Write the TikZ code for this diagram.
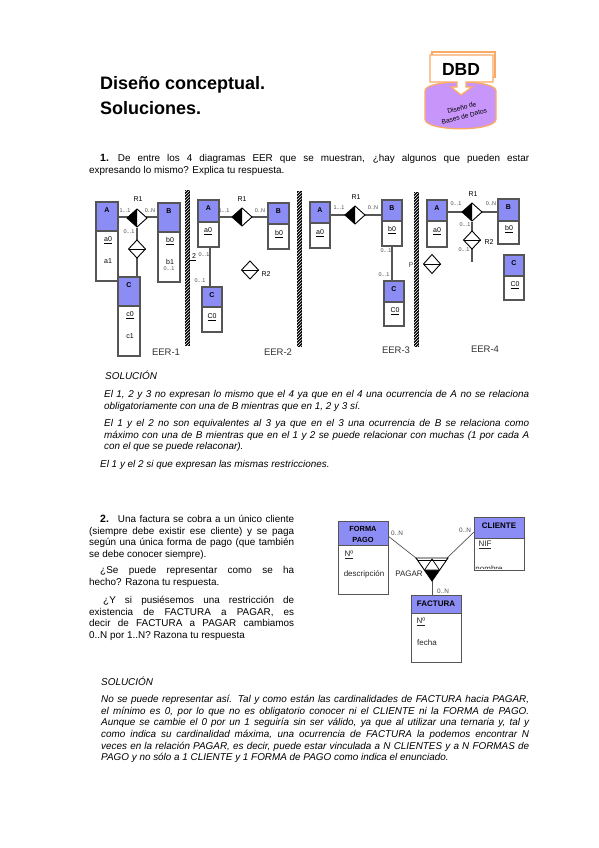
\documentclass[tikz,border=0pt]{standalone}
\usepackage{fontspec}
\setmainfont{Liberation Sans}
\usetikzlibrary{patterns}
\definecolor{ent}{RGB}{140,140,245}
\definecolor{org}{RGB}{250,170,100}
\definecolor{lil}{RGB}{200,150,250}
\definecolor{lin}{RGB}{85,85,85}
\tikzset{
 x=1pt,y=-1pt,
 ebox/.style={draw=lin,line width=1.2pt,fill=white},
 ehead/.style={draw=lin,line width=1.2pt,fill=ent},
 conn/.style={draw=lin,line width=1.2pt},
 lb/.style={font=\fontsize{7}{8}\selectfont,inner sep=0pt,text=black},
 card/.style={font=\fontsize{5.5}{6}\selectfont,inner sep=0pt,text=black!70},
 eer/.style={font=\fontsize{9.5}{11}\selectfont,inner sep=0pt,text=black!80},
 para/.style={anchor=north west,inner sep=0pt,align=justify,font=\fontsize{9.9}{11.7}\selectfont},
 itpara/.style={para,font=\fontsize{9.9}{11.7}\selectfont\itshape},
 dia/.style={draw=black,line width=.9pt,fill=white},
 big/.style={font=\fontsize{8}{9}\selectfont,inner sep=0pt,text=black!85},
 bigb/.style={font=\fontsize{8}{9}\selectfont\bfseries,inner sep=0pt,text=black},
}
\newcommand{\Ent}[8]{%
 \draw[ebox] (#2,#3) rectangle (#4,#6);
 \draw[ehead] (#2,#3) rectangle (#4,#5);
 \node[lb,font=\fontsize{7}{8}\selectfont\bfseries] (#1h) at ({(#2+#4)/2},{#3+8}) {#7};
 #8
}
\newcommand{\RelL}[4]{%
 \draw[dia] (#1-#3,#2) -- (#1,#2-#4) -- (#1+#3,#2) -- (#1,#2+#4) -- cycle;
 \fill[black] (#1-#3,#2) -- (#1,#2-#4) -- (#1,#2+#4) -- cycle;
}
\newcommand{\RelS}[4]{%
 \draw[dia] (#1-#3,#2) -- (#1,#2-#4) -- (#1+#3,#2) -- (#1,#2+#4) -- cycle;
 \draw[line width=.6pt] (#1-#3,#2) -- (#1+#3,#2);
}
\begin{document}
\begin{tikzpicture}
\useasboundingbox (0,0) rectangle (599,848);
\fill[white] (0,0) rectangle (599,848);

% Title
\node[anchor=base west,inner sep=0pt,font=\fontsize{18}{20}\selectfont\bfseries] (t1) at (100,90) {Diseño conceptual.};
\node[anchor=base west,inner sep=0pt,font=\fontsize{18}{20}\selectfont\bfseries] (t2) at (100,115) {Soluciones.};

% Logo
\draw[org,line width=1.3pt,fill=white] (432,52) rectangle (495,77);
\draw[org,line width=1.3pt,fill=lil] (425,91) -- (425,119) .. controls (425,132) and (496,132) .. (496,119) -- (496,91) .. controls (496,79) and (425,79) .. (425,91) -- cycle;
\draw[org,line width=1.3pt,fill=white] (430,55) -- (493,55) -- (493,82) -- (466,82) -- (466,87) -- (472,87) -- (461,95) -- (451,87) -- (457,87) -- (457,82) -- (430,82) -- cycle;
\node[inner sep=0pt,font=\fontsize{17.5}{20}\selectfont\bfseries] (dbd) at (461,69) {DBD};
\node[inner sep=0pt,rotate=15,align=center,font=\fontsize{6.6}{9}\selectfont] (dbd2) at (463,112) {Diseño de\\Bases de Datos};

% Question 1
\node[para,text width=429pt] (q1) at (100,154) {{\bfseries\fontsize{10.5}{12}\selectfont 1.}\hspace{9pt}De entre los 4 diagramas EER que se muestran, ¿hay algunos que pueden estar\linebreak};
\node[para] (q1b) at (89,166) {expresando lo mismo? Explica tu respuesta.};

% Bars
\foreach \n/\x/\ya/\yb in {b1/187/190/346,b2/299/191/347,b3/416/192/347}{
 \fill[black] (\x-2.5,\ya) rectangle (\x+2.5,\yb);
 \fill[pattern=north east lines,pattern color=white] (\x-2.5,\ya) rectangle (\x+2.5,\yb);
}

% EER-1
\Ent{a1}{96}{202}{118}{231}{281}{A}{\node[lb] (a1x) at (108,240) {\underline{a0}}; \node[lb] (a1y) at (108,261) {a1};}
\Ent{b1}{158}{203}{180}{232}{282}{B}{\node[lb] (b1x) at (170,241) {\underline{b0}}; \node[lb] (b1y) at (170,262) {b1};}
\draw[conn] (118,217) -- (130,217);
\draw[conn] (146,217) -- (158,217);
\draw[conn] (137,228) -- (137,240);
\draw[conn] (137,258) -- (137,276);
\RelL{137}{218}{10}{9}
\RelS{137}{249}{8.5}{9}
\Ent{c1}{118}{277}{140}{306}{356}{C}{\node[lb] (c1x) at (130,315) {\underline{c0}}; \node[lb] (c1y) at (130,336) {c1};}
\node[lb] (r1a) at (138,199) {R1};
\node[card] at (125,211) {1...1};
\node[card] at (150,211) {0..N};
\node[card] at (129,232) {0...1};
\node[card] at (169,269) {0...1};
\node[lb] at (193,257) {\underline{\ 2}};
\node[eer] (e1) at (166,352) {EER-1};

% EER-2
\Ent{a2}{198}{200}{219}{222}{247}{A}{\node[lb] (a2x) at (208,231) {\underline{a0}};}
\Ent{b2}{268}{203}{289}{224}{249}{B}{\node[lb] (b2x) at (279,234) {\underline{b0}};}
\draw[conn] (220,217) -- (232,217);
\draw[conn] (251,217) -- (268,217);
\RelL{242}{217}{10}{9}
\draw[conn] (210,248) -- (210,287);
\Ent{c2}{202}{287}{222}{307}{332}{C}{\node[lb] (c2x) at (212,317) {\underline{C0}};}
\RelS{250}{270}{8.5}{9}
\node[lb] at (242,199) {R1};
\node[lb] at (266,274) {R2};
\node[card] at (224,211) {1...1};
\node[card] at (260,211) {0..N};
\node[card] at (204,255) {0...1};
\node[card] at (200,281) {0...1};
\node[eer] (e2) at (278,352) {EER-2};

% EER-3
\Ent{a3}{310}{202}{330}{223}{248}{A}{\node[lb] (a3x) at (320,233) {\underline{a0}};}
\Ent{b3}{382}{200}{402}{221}{246}{B}{\node[lb] (b3x) at (392,230) {\underline{b0}};}
\draw[conn] (331,215) -- (346,215);
\draw[conn] (364,215) -- (382,215);
\RelL{355}{215}{10}{9}
\draw[conn] (392,247) -- (392,281);
\Ent{c3}{384}{281}{404}{302}{326}{C}{\node[lb] (c3x) at (395,311) {\underline{C0}};}
\node[lb] at (356,197) {R1};
\node[card] at (339,208) {1...1};
\node[card] at (373,208) {0..N};
\node[card] at (386,251) {0...1};
\node[card] at (384,275) {0...1};
\node[lb,text=black!70] at (411,265) {P};
\node[eer] (e3) at (396,350) {EER-3};

% EER-4
\Ent{a4}{427}{200}{447}{221}{247}{A}{\node[lb] (a4x) at (437,231) {\underline{a0}};}
\Ent{b4}{498}{199}{519}{221}{244}{B}{\node[lb] (b4x) at (509,229) {\underline{b0}};}
\draw[conn] (447,212) -- (463,212);
\draw[conn] (482,212) -- (498,212);
\RelL{472}{212}{10}{9}
\draw[conn] (472,222) -- (472,231);
\draw[conn] (472,249) -- (472,262);
\RelS{472}{240}{8.5}{9}
\RelS{432}{264}{8.5}{9.5}
\Ent{c4}{504}{255}{524}{276}{300}{C}{\node[lb] (c4x) at (515,285) {\underline{C0}};}
\node[lb] at (473,194) {R1};
\node[lb] at (489,242) {R2};
\node[card] at (456,204) {0...1};
\node[card] at (491,204) {0..N};
\node[card] at (465,225) {0...1};
\node[card] at (464,250) {0...1};
\node[eer] (e4) at (485,349) {EER-4};

% Solution 1
\node[itpara] (s1) at (105,371) {SOLUCIÓN};
\node[itpara,text width=425pt] (s1a) at (104,390) {El 1, 2 y 3 no expresan lo mismo que el 4 ya que en el 4 una ocurrencia de A no se relaciona\linebreak obligatoriamente con una de B mientras que en 1, 2 y 3 sí.};
\node[itpara,text width=425pt] (s1b) at (104,419) {El 1 y el 2 no son equivalentes al 3 ya que en el 3 una ocurrencia de B se relaciona como\linebreak máximo con una de B mientras que en el 1 y 2 se puede relacionar con muchas (1 por cada A\linebreak con el que se puede relaconar).};
\node[itpara] (s1c) at (100,460) {El 1 y el 2 si que expresan las mismas restricciones.};

% Question 2
\node[para,text width=205pt] (q2a) at (89,515) {\hspace*{11pt}{\bfseries\fontsize{10.5}{12}\selectfont 2.}\hspace{9pt}Una factura se cobra a un único cliente\linebreak (siempre debe existir ese cliente) y se paga\linebreak según una única forma de pago (que también\linebreak se debe conocer siempre).};
\node[para,text width=205pt] (q2b) at (89,566) {\hspace*{11pt}¿Se puede representar como se ha\linebreak hecho? Razona tu respuesta.};
\node[para,text width=205pt] (q2c) at (89,596) {\hspace*{14pt}¿Y si pusiésemos una restricción de\linebreak existencia de FACTURA a PAGAR, es\linebreak decir de FACTURA a PAGAR cambiamos\linebreak 0..N por 1..N? Razona tu respuesta};

% Diagram 2
\draw[conn,line width=.7pt] (388,536) -- (416,558);
\draw[conn,line width=.7pt] (474,532) -- (447,558);
\draw[conn,line width=1pt] (432,580) -- (432,595);
\draw[line width=.9pt,fill=white] (416,558) -- (448,558) -- (432,581) -- cycle;
\fill[black] (432,581) -- (424.5,570) -- (439.5,570) -- cycle;
\draw[line width=.7pt,fill=white] (424.5,570) -- (432,559) -- (439.5,570) -- cycle;
\draw[line width=.7pt] (418,560.5) -- (446,560.5);
\draw[ebox,line width=.9pt] (338,521) rectangle (388,594);
\draw[ehead,line width=.9pt] (338,521) rectangle (388,545);
\node[bigb,align=center,font=\fontsize{7.4}{11}\selectfont\bfseries] (fp) at (363,534) {FORMA\\PAGO};
\node[big] (fp1) at (349,555) {\underline{Nº}};
\node[big] (fp2) at (364,574) {descripción};
\draw[ebox,line width=.9pt] (474,517) rectangle (524,570);
\begin{scope}
\clip (474,517) rectangle (524,568);
\node[big,anchor=base] (cl2) at (489,571) {nombre};
\end{scope}
\draw[ebox,line width=.9pt,fill=none] (474,517) rectangle (524,570);
\draw[ehead,line width=.9pt] (474,517) rectangle (524,538);
\node[bigb] (cl) at (499,526) {CLIENTE};
\node[big] (cl1) at (485,545) {\underline{NIF}};
\draw[ebox,line width=.9pt] (411,595) rectangle (461,662);
\draw[ehead,line width=.9pt] (411,595) rectangle (461,613);
\node[bigb] (fa) at (436,604) {FACTURA};
\node[big] (fa1) at (421,622) {\underline{Nº}};
\node[big] (fa2) at (427,643) {fecha};
\node[big] (pg) at (409,574) {PAGAR};
\node[card,font=\fontsize{6.4}{7}\selectfont] at (397,533) {0..N};
\node[card,font=\fontsize{6.4}{7}\selectfont] at (465,530) {0..N};
\node[card,font=\fontsize{6.4}{7}\selectfont] at (443,591) {0..N};

% Solution 2
\node[itpara] (s2) at (101,677) {SOLUCIÓN};
\node[itpara,text width=428pt] (s2a) at (101,695) {No se puede representar así. Tal y como están las cardinalidades de FACTURA hacia PAGAR,\linebreak el mínimo es 0, por lo que no es obligatorio conocer ni el CLIENTE ni la FORMA de PAGO.\linebreak Aunque se cambie el 0 por un 1 seguiría sin ser válido, ya que al utilizar una ternaria y, tal y\linebreak como indica su cardinalidad máxima, una ocurrencia de FACTURA la podemos encontrar N\linebreak veces en la relación PAGAR, es decir, puede estar vinculada a N CLIENTES y a N FORMAS de\linebreak PAGO y no sólo a 1 CLIENTE y 1 FORMA de PAGO como indica el enunciado.};
\end{tikzpicture}
\end{document}
